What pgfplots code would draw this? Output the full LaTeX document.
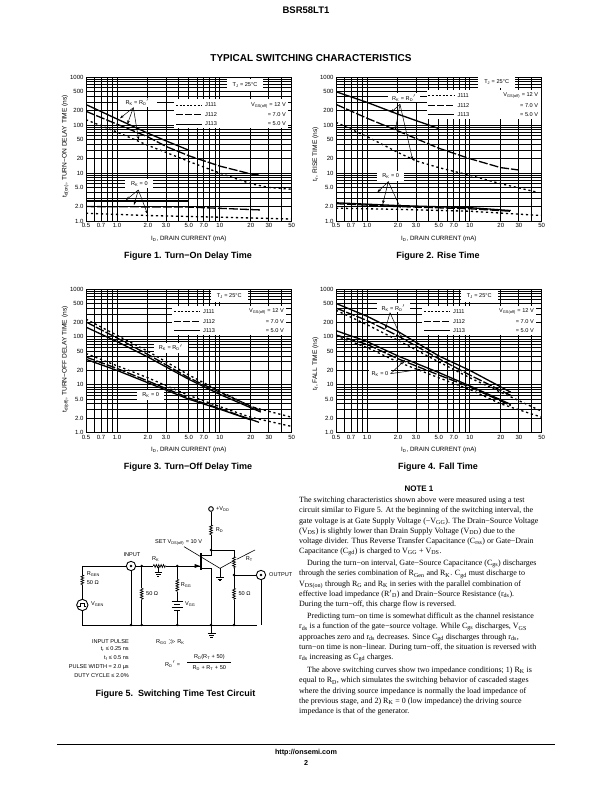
\documentclass[border=0pt]{standalone}
\usepackage{fontspec}
\setmainfont{Liberation Sans}
\newfontfamily\bodyfont{Liberation Serif}
\usepackage{pgfplots}
\pgfplotsset{compat=1.18}
\usetikzlibrary{arrows.meta,decorations.pathmorphing}

\tikzset{
  zoomat/.style 2 args={x=0.33333pt,y=-0.33333pt,xshift={#1*1pt},yshift={(792-#2)*1pt}},
  j111/.style={black,line width=1.3pt,dash pattern=on 2.2pt off 2.8pt},
  j112/.style={black,line width=1.3pt,dash pattern=on 9pt off 2pt},
  j113/.style={black,line width=1.3pt},
  note/.style={font=\fontsize{5.6}{6.5}\selectfont,inner sep=0pt},
  ann/.style={black,line width=0.5pt,-{Stealth[length=4pt,width=2.6pt]}},
  wire/.style={black,line width=0.6pt},
  res/.style={black,line width=0.7pt,decorate,decoration={zigzag,amplitude=1.4pt,segment length=2.4pt}},
  caption/.style={font=\bfseries\fontsize{9}{11}\selectfont},
}
\pgfplotsset{
  /pgfplots/swchart/.style={
    /pgfplots/scale only axis,/pgfplots/width=205.7pt,/pgfplots/height=143.7pt,
    /pgfplots/xmin=0.5,/pgfplots/xmax=50,/pgfplots/ymin=1,/pgfplots/ymax=1000,
    /pgfplots/xtick={0.5,0.7,1,2,3,5,7,10,20,30,50},
    /pgfplots/xticklabels={0.5,0.7,1.0,2.0,3.0,5.0,7.0,10,20,30,50},
    /pgfplots/ytick={1,2,5,10,20,50,100,200,500,1000},
    /pgfplots/yticklabels={1.0,2.0,5.0,10,20,50,100,200,500,1000},
    /pgfplots/minor xtick={0.6,0.8,0.9,4,6,8,9,40},
    /pgfplots/minor ytick={3,4,6,7,8,9,30,40,60,70,80,90,300,400,600,700,800,900},
    /pgfplots/grid=both,
    /pgfplots/grid style={black,line width=0.9pt},
    /pgfplots/minor grid style={black,line width=0.9pt},
    /pgfplots/major tick length=0pt,/pgfplots/minor tick length=0pt,
    /pgfplots/axis line style={black,line width=0.9pt},
    /pgfplots/tick label style={font=\fontsize{6}{7}\selectfont},
    /pgfplots/xticklabel style={yshift=1pt},
    /pgfplots/yticklabel style={xshift=1pt},
    /pgfplots/label style={font=\fontsize{6.2}{7}\selectfont},
    /pgfplots/xlabel={I\textsubscript{D}, DRAIN CURRENT (mA)},
    /pgfplots/xlabel style={at={(0.5,0)},anchor=north,yshift=-11pt},
    /pgfplots/ylabel style={at={(0,0.5)},anchor=south,rotate=0,yshift=14pt,font=\fontsize{6.6}{7}\selectfont},
  },
}
% legend block, origin at the left end of the first sample line
\newcommand{\swlegend}[2]{%
  \begin{scope}[shift={(#1,#2)}]
    \fill[white] (-5,-17) rectangle (337,70);
    \draw[black,line width=0.7pt,dash pattern=on 2pt off 1.6pt] (0,0) -- (77,0);
    \draw[black,line width=0.7pt,dash pattern=on 7pt off 2pt] (0,29) -- (77,29);
    \draw[black,line width=0.7pt] (0,57) -- (77,57);
    \node[note,anchor=west] at (87,0) {J111};
    \node[note,anchor=west] at (87,29) {J112};
    \node[note,anchor=west] at (87,57) {J113};
    \node[note,anchor=east] at (330,0) {V\textsubscript{GS(off)} = 12 V};
    \node[note,anchor=east] at (330,29) {= 7.0 V};
    \node[note,anchor=east] at (330,57) {= 5.0 V};
  \end{scope}}
\newcommand{\tjbox}[2]{%
  \fill[white] (#1-55,#2-18) rectangle (#1+55,#2+18);
  \node[note] at (#1,#2) {T\textsubscript{J} = 25°C};}

\begin{document}
\begin{tikzpicture}
\fill[white] (0,0) rectangle (612pt,792pt);

% Figure 1
\begin{axis}[xmode=log,ymode=log,swchart,at={(86pt,571pt)},anchor=south west,
  ylabel style={at={(0,0.52)}},
  ylabel={t\textsubscript{d(on)}, TURN−ON DELAY TIME (ns)}]
\addplot[j113] coordinates {(0.5,270) (1,135) (2,68) (3,47) (5,30)};
\addplot[j112] coordinates {(0.5,195) (1,105) (2,57) (3,36) (5,23) (10,14) (20,9.6) (25,9)};
\addplot[j111] coordinates {(0.5,130) (1,72) (2,38) (5,17.5) (10,10) (20,6) (30,5) (50,4.6)};
\addplot[j113] coordinates {(0.5,2.6) (5,2.6)};
\addplot[j112] coordinates {(0.5,2) (5,1.95) (25,1.7)};
\addplot[j111] coordinates {(0.5,1.45) (2,1.3) (10,1.2) (50,1.1)};
\end{axis}
\begin{scope}[zoomat={50}{65}]
  \tjbox{585}{60}
  \swlegend{378}{120}
  \fill[white] (205,100) rectangle (320,125);
  \node[note] at (262,112) {R\textsubscript{K} = R\textsubscript{D}$'$};
  \fill[white] (225,343) rectangle (310,370);
  \node[note] at (268,356) {R\textsubscript{K} = 0};
  \draw[ann] (250,128) -- (210,160);
  \draw[ann] (250,128) -- (232,178);
  \draw[ann] (250,128) -- (266,225);
  \draw[ann] (265,375) -- (228,405);
  \draw[ann] (265,375) -- (252,420);
  \draw[ann] (265,375) -- (293,448);
\end{scope}

% Figure 2
\begin{axis}[xmode=log,ymode=log,swchart,at={(336pt,571pt)},anchor=south west,
  ylabel style={at={(0,0.465)}},
  ylabel={t\textsubscript{r}, RISE TIME (ns)}]
\addplot[j113] coordinates {(0.5,500) (1,300) (2,170) (3,125) (5,85)};
\addplot[j112] coordinates {(0.5,272) (1,140) (2,76) (5,33) (10,20) (20,13) (30,11.6)};
\addplot[j111] coordinates {(0.5,115) (1,58) (2,27) (3,18) (5,13) (10,9) (20,6) (45,4)};
\addplot[j113] coordinates {(0.5,2.4) (2,2.1) (10,1.9) (25,1.65)};
\addplot[j112] coordinates {(0.5,2.3) (2,2) (10,1.8) (25,1.6)};
\addplot[j111] coordinates {(0.5,1.85) (2,1.75) (10,1.6) (50,1.3)};
\end{axis}
\begin{scope}[zoomat={300}{65}]
  \tjbox{590}{52}
  \swlegend{385}{92}
  \fill[white] (265,85) rectangle (360,112);
  \node[note] at (312,99) {R\textsubscript{K} = R\textsubscript{D}$'$};
  \fill[white] (232,318) rectangle (312,347);
  \node[note] at (272,332) {R\textsubscript{K} = 0};
  \draw[ann] (300,118) -- (272,143);
  \draw[ann] (300,118) -- (286,195);
  \draw[ann] (300,118) -- (338,285);
  \draw[ann] (265,350) -- (232,382);
  \draw[ann] (265,350) -- (248,418);
  \draw[ann] (265,350) -- (302,430);
\end{scope}

% Figure 3
\begin{axis}[xmode=log,ymode=log,swchart,at={(86pt,359.3pt)},anchor=south west,
  ylabel style={at={(0,0.51)}},
  ylabel={t\textsubscript{d(off)}, TURN−OFF DELAY TIME (ns)}]
\addplot[j113] coordinates {(0.5,160) (1,80) (2,38) (5,13) (10,6.3) (25,2.7)};
\addplot[j112] coordinates {(0.5,205) (1,95) (2,43) (5,14) (10,7) (25,2.9)};
\addplot[j111] coordinates {(0.5,235) (1,108) (2,50) (5,16) (10,7.4) (20,3.5) (50,2.1)};
\addplot[j113] coordinates {(0.5,34) (1,20) (2,11) (5,5) (10,3.1) (20,1.85)};
\addplot[j112] coordinates {(0.5,38) (1,22) (2,12) (5,5.3) (10,3.2) (25,1.6)};
\addplot[j111] coordinates {(0.5,45) (1,25) (2,14) (5,6) (10,3.5) (20,2.1) (50,1.35)};
\end{axis}
\begin{scope}[zoomat={50}{280}]
  \tjbox{538}{48}
  \swlegend{372}{95}
  \fill[white] (312,188) rectangle (415,218);
  \node[note] at (362,203) {R\textsubscript{K} = R\textsubscript{D}$'$};
  \fill[white] (262,330) rectangle (342,360);
  \node[note] at (302,345) {R\textsubscript{K} = 0};
\end{scope}

% Figure 4
\begin{axis}[xmode=log,ymode=log,swchart,at={(336pt,359.3pt)},anchor=south west,
  ylabel style={at={(0,0.48)}},
  ylabel={t\textsubscript{f}, FALL TIME (ns)}]
\addplot[j113] coordinates {(0.5,500) (1,270) (2,130) (5,40) (10,20) (25,7)};
\addplot[j112] coordinates {(0.5,400) (1,220) (2,105) (5,35) (10,16) (25,6)};
\addplot[j111] coordinates {(0.5,360) (1,180) (2,85) (5,30) (10,14) (20,7) (50,2.8)};
\addplot[j113] coordinates {(0.5,135) (1,80) (2,40) (5,18) (10,9.5) (25,3.9)};
\addplot[j112] coordinates {(0.5,110) (1,70) (2,35) (5,16) (10,9) (25,3.7)};
\addplot[j111] coordinates {(0.5,105) (1,60) (2,30) (5,14) (10,8) (20,4) (50,2.1)};
\end{axis}
\begin{scope}[zoomat={300}{280}]
  \tjbox{538}{48}
  \swlegend{372}{95}
  \fill[white] (232,70) rectangle (330,97);
  \node[note] at (280,84) {R\textsubscript{K} = R\textsubscript{D}$'$};
  \draw[ann] (270,98) -- (256,148);
  \draw[ann] (270,98) -- (306,178);
  \fill[white] (208,270) rectangle (272,295);
  \node[note] at (240,283) {R\textsubscript{K} = 0};
  \draw[ann] (272,281) -- (315,240);
  \draw[ann] (272,281) -- (362,268);
\end{scope}

% page text, circuit
\begin{scope}[x=1pt,y=-1pt,yshift=792pt]
  \node[font=\bfseries\fontsize{9.5}{11}\selectfont] at (306,10) {BSR58LT1};
  \node[font=\bfseries\fontsize{10}{12}\selectfont] at (311,58) {TYPICAL SWITCHING CHARACTERISTICS};
  \node[caption] at (188,256) {Figure 1. Turn−On Delay Time};
  \node[caption] at (438,256) {Figure 2. Rise Time};
  \node[caption] at (188,467) {Figure 3. Turn−Off Delay Time};
  \node[caption] at (438,467) {Figure 4. Fall Time};
  \node[caption] at (175.5,694) {Figure 5.\ \ Switching Time Test Circuit};
  \node[font=\bfseries\fontsize{8}{10}\selectfont] at (419,489) {NOTE 1};
  \draw[black,line width=0.6pt] (57,744) -- (555,744);
  \node[font=\bfseries\fontsize{7.2}{9}\selectfont] at (306,753) {http://onsemi.com};
  \node[font=\bfseries\fontsize{7.2}{9}\selectfont] at (306,763) {2};
  % note text
  \begin{scope}[every node/.style={anchor=north west,inner sep=0pt,align=left,
      font=\bodyfont\fontsize{8}{10.15}\selectfont}]
  \node at (299,497) {The switching characteristics shown above were measured using a test\\
circuit similar to Figure 5. At the beginning of the switching interval, the\\
gate voltage is at Gate Supply Voltage (−V\textsubscript{GG}). The Drain−Source Voltage\\
(V\textsubscript{DS}) is slightly lower than Drain Supply Voltage (V\textsubscript{DD}) due to the\\
voltage divider. Thus Reverse Transfer Capacitance (C\textsubscript{rss}) or Gate−Drain\\
Capacitance (C\textsubscript{gd}) is charged to V\textsubscript{GG} + V\textsubscript{DS}.};
  \node at (299,560) {\hspace{8pt}During the turn−on interval, Gate−Source Capacitance (C\textsubscript{gs}) discharges\\
through the series combination of R\textsubscript{Gen} and R\textsubscript{K}. C\textsubscript{gd} must discharge to\\
V\textsubscript{DS(on)} through R\textsubscript{G} and R\textsubscript{K} in series with the parallel combination of\\
effective load impedance (R$'$\textsubscript{D}) and Drain−Source Resistance (r\textsubscript{ds}).\\
During the turn−off, this charge flow is reversed.};
  \node at (299,613) {\hspace{8pt}Predicting turn−on time is somewhat difficult as the channel resistance\\
r\textsubscript{ds} is a function of the gate−source voltage. While C\textsubscript{gs} discharges, V\textsubscript{GS}\\
approaches zero and r\textsubscript{ds} decreases. Since C\textsubscript{gd} discharges through r\textsubscript{ds},\\
turn−on time is non−linear. During turn−off, the situation is reversed with\\
r\textsubscript{ds} increasing as C\textsubscript{gd} charges.};
  \node at (299,667) {\hspace{8pt}The above switching curves show two impedance conditions; 1) R\textsubscript{K} is\\
equal to R\textsubscript{D}, which simulates the switching behavior of cascaded stages\\
where the driving source impedance is normally the load impedance of\\
the previous stage, and 2) R\textsubscript{K} = 0 (low impedance) the driving source\\
impedance is that of the generator.};
  \end{scope}
\end{scope}

% Figure 5 circuit, coordinates in the crop's 3x pixels
\begin{scope}[zoomat={60}{490}]
  % wires
  \draw[wire] (67,228) -- (198,228);
  \draw[wire] (226,228) -- (280,228) (318,228) -- (420,228);
  \draw[wire] (67,228) -- (67,255) (67,285) -- (67,328) (67,362) -- (67,405) -- (590,405);
  \draw[wire] (213,240) -- (213,405);
  \draw[wire] (245,228) -- (245,295) (245,330) -- (245,405);
  \draw[wire] (352,228) -- (352,268) (352,305) -- (352,335) (352,360) -- (352,405);
  \draw[wire] (453,66) -- (453,105) (453,135) -- (453,180) -- (522,180) -- (522,200);
  \draw[wire] (522,235) -- (522,295) (522,330) -- (522,405);
  \draw[wire] (522,255) -- (590,255) (603,268) -- (603,405);
  \draw[wire] (453,180) -- (453,195) -- (423,195);
  \draw[wire] (423,235) -- (455,235) -- (455,430);
  \draw[black,line width=1.2pt] (423,190) -- (423,240);
  \fill[black] (420,228) -- (404,222) -- (404,234) -- cycle;
  % resistors
  \draw[res] (67,255) -- (67,285);
  \draw[res] (245,295) -- (245,330);
  \draw[res] (352,268) -- (352,305);
  \draw[res] (453,105) -- (453,135);
  \draw[res] (522,200) -- (522,235);
  \draw[res] (522,295) -- (522,330);
  \draw[res] (280,228) -- (318,228);
  % wipers
  \draw[wire] (372,170) -- (480,235) -- (520,213);
  \draw[wire] (530,208) -- (585,180);
  \draw[wire] (480,235) -- (480,262);
  \draw[wire] (468,262) -- (492,262) (473,267) -- (487,267) (477,272) -- (483,272);
  \draw[wire] (295,232) -- (295,248) (284,248) -- (306,248) (288,253) -- (302,253) (292,258) -- (298,258);
  % grounds and battery
  \draw[wire] (443,430) -- (467,430) (447,436) -- (463,436) (451,442) -- (459,442);
  \draw[black,line width=0.9pt] (335,335) -- (369,335) (335,352) -- (369,352);
  \draw[black,line width=0.7pt] (343,344) -- (361,344) (343,360) -- (361,360);
  % terminals
  \draw[black,line width=0.9pt,fill=white] (453,57) circle (7);
  \draw[black,line width=0.9pt,fill=white] (213,228) circle (14);
  \fill[black] (213,228) circle (4);
  \draw[black,line width=0.9pt,fill=white] (603,255) circle (14);
  \fill[black] (603,255) circle (4);
  \draw[black,line width=0.9pt,fill=white] (67,345) circle (17);
  \draw[black,line width=0.7pt] (55,350) -- (62,350) -- (62,340) -- (72,340) -- (72,350) -- (79,350);
  % junction dots
  \foreach \p in {(245,228),(352,228),(213,405),(245,405),(352,405),(453,405),(522,405),(453,180),(522,255)}
    \fill[black] \p circle (4);
  % labels
  \node[note,anchor=west] at (468,57) {+V\textsubscript{DD}};
  \node[note,anchor=west] at (467,120) {R\textsubscript{D}};
  \node[note,anchor=east] at (427,157) {SET V\textsubscript{DS(off)} = 10 V};
  \node[note] at (216,193) {INPUT};
  \node[note] at (287,206) {R\textsubscript{K}};
  \node[note,anchor=west] at (80,253) {R\textsubscript{GEN}};
  \node[note,anchor=west] at (80,278) {50 Ω};
  \node[note,anchor=west] at (93,343) {V\textsubscript{GEN}};
  \node[note,anchor=west] at (258,311) {50 Ω};
  \node[note,anchor=west] at (362,286) {R\textsubscript{GG}};
  \node[note,anchor=west] at (375,343) {V\textsubscript{GG}};
  \node[note,anchor=west] at (557,208) {R\textsubscript{T}};
  \node[note,anchor=west] at (535,311) {50 Ω};
  \node[note,anchor=west] at (627,255) {OUTPUT};
  \node[note,anchor=east] at (207,454) {INPUT PULSE};
  \node[note,anchor=east] at (207,476) {t\textsubscript{r} ≤ 0.25 ns};
  \node[note,anchor=east] at (207,503) {t\textsubscript{f} ≤ 0.5 ns};
  \node[note,anchor=east] at (207,530) {PULSE WIDTH = 2.0 µs};
  \node[note,anchor=east] at (207,556) {DUTY CYCLE ≤ 2.0\%};
  \node[note,anchor=west] at (288,456) {R\textsubscript{GG} $\gg$ R\textsubscript{K}};
  \node[note,anchor=west] at (315,522) {R\textsubscript{D}$'$ =};
  \node[note] at (448,500) {R\textsubscript{D}(R\textsubscript{T} + 50)};
  \draw[black,line width=0.5pt] (382,516) -- (514,516);
  \node[note] at (448,533) {R\textsubscript{D} + R\textsubscript{T} + 50};
\end{scope}
\end{tikzpicture}
\end{document}
